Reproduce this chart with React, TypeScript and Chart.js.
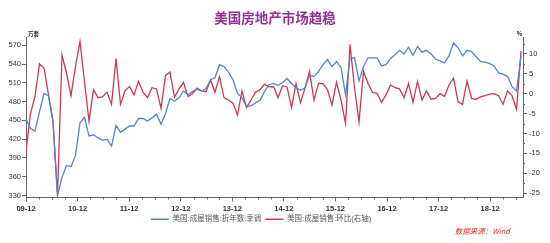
import { useEffect, useRef } from "react";
import { Chart, registerables } from "chart.js";

Chart.register(...registerables);

const TITLE = "美国房地产市场趋稳";
const SALES_NAME = "美国:成屋销售:折年数:季调";
const MOM_NAME = "美国:成屋销售:环比(右轴)";
const SOURCE_TEXT = "数据来源：Wind";
const LEFT_UNIT = "万套";
const RIGHT_UNIT = "%";

// x-axis labels as printed on the reference (evenly spread)
const X_TICK_LABELS = ["09-12", "10-12", "11-12", "12-12", "13-12", "14-12", "15-12", "16-12", "17-12", "18-12"];
const LEFT_TICKS = [330, 360, 390, 420, 450, 480, 510, 540, 570];
const RIGHT_TICKS = [-25, -20, -15, -10, -5, 0, 5, 10];

// monthly points, 2009-12 .. 2019-02
const START_YEAR = 2009;
const START_MONTH = 12;

// 万套, seasonally adjusted annual rate
const SALES = [
  452, 437, 433, 464, 493, 489, 448, 330, 359, 378,
  376, 394, 446, 455, 425, 427, 422, 418, 420, 409,
  442, 431, 436, 441, 441, 453, 453, 449, 454, 460,
  444, 461, 485, 481, 486, 497, 491, 496, 500, 497,
  501, 515, 518, 539, 536, 527, 515, 493, 486, 472,
  473, 478, 482, 496, 507, 509, 506, 510, 517, 509,
  502, 498, 502, 522, 520, 528, 539, 547, 536, 544,
  535, 491, 549, 550, 513, 536, 550, 550, 550, 537,
  539, 549, 555, 562, 556, 567, 554, 568, 559, 562,
  556, 548, 545, 542, 553, 574, 566, 553, 562, 560,
  552, 544, 543, 541, 537, 526, 524, 520, 504, 497,
  553,
];

// %, month over month
const MOM = [
  -14.3, -5.0, -0.7, 7.5, 6.4, -0.3, -6.9, -25.5, 9.7, 5.2,
  -0.5, 6.9, 13.1, 3.0, -6.9, 1.0, -1.0, -0.8, 0.4, -2.7,
  8.8, -2.7, 0.7, 1.8, -0.3, 3.1, 0.4, -1.0, 1.5, 1.2,
  -3.7, 4.6, 5.4, -0.9, 1.2, 2.8, -0.7, 0.0, 1.4, 0.7,
  0.5, 3.4, 0.4, 4.3, -1.0, -1.6, -2.4, -5.4, 0.7, -3.5,
  -1.6, 0.4, 1.0, 2.4, 1.7, 1.8, -1.0, 2.0, 1.7, -3.5,
  2.5, -2.3, 1.4, 5.6, -1.6, 2.6, 2.5, 1.0, -2.9, 2.9,
  -1.6, -7.5, 12.4, 1.5, -7.1, 5.6, 2.6, 0.3, 0.1, -2.2,
  -0.3, 2.2, 1.5, 1.2, -1.0, 2.5, -2.2, 3.1, -1.6, 0.7,
  -1.4, -1.2, 0.0, -0.7, 2.2, 3.9, -2.0, -2.7, 3.2, -1.2,
  -1.4, -0.8, -0.5, -0.1, 0.0, -0.5, -2.7, 0.7, -0.5, -3.9,
  10.7,
];

const MONTHS = SALES.map((_, i) => {
  const m0 = START_MONTH - 1 + i;
  const y = START_YEAR + Math.floor(m0 / 12);
  const m = (m0 % 12) + 1;
  return `${y}-${String(m).padStart(2, "0")}`;
});

const X_LABEL_STEP = 11.46;

const FONT = '"Liberation Sans", "Noto Sans CJK SC", sans-serif';
const CJK_FONT = '"Noto Sans CJK SC", "Liberation Sans", sans-serif';
const BLUE = "#5585C2";
const RED = "#CC3A50";
const AXIS = "#666666";

const extras = {
  id: "extras",
  afterLayout(chart: any) {
    const lg = chart.legend;
    if (lg) {
      lg.left -= 14;
      lg.right -= 14;
    }
  },
  afterDraw(chart: any) {
    const { ctx, chartArea, scales } = chart;
    ctx.save();
    // minor ticks
    ctx.strokeStyle = AXIS;
    ctx.lineWidth = 1;
    const xs = scales.x;
    ctx.beginPath();
    for (let k = 0; k < X_TICK_LABELS.length; k++) {
      for (let q = 1; q < 4; q++) {
        const v = (k + q / 4) * X_LABEL_STEP;
        if (v > xs.max) continue;
        const px = Math.round(xs.getPixelForValue(v)) + 0.5;
        ctx.moveTo(px, chartArea.bottom);
        ctx.lineTo(px, chartArea.bottom + 2);
      }
    }
    const yr = scales.y1;
    for (let k = 0; k < RIGHT_TICKS.length; k++) {
      const v = RIGHT_TICKS[k] + 2.5;
      if (v > yr.max) continue;
      const py = Math.round(yr.getPixelForValue(v)) + 0.5;
      ctx.moveTo(chartArea.right, py);
      ctx.lineTo(chartArea.right + 2, py);
    }
    ctx.stroke();
    // units
    ctx.fillStyle = "#222";
    ctx.font = `bold 5.5px ${CJK_FONT}`;
    ctx.textBaseline = "middle";
    ctx.textAlign = "left";
    ctx.fillText(LEFT_UNIT, chartArea.left + 2, chartArea.top - 3);
    ctx.textAlign = "right";
    ctx.fillText(RIGHT_UNIT, chartArea.right - 1, chartArea.top - 3);
    // source
    ctx.fillStyle = "#E03030";
    ctx.font = `italic 7.5px ${CJK_FONT}`;
    ctx.textAlign = "right";
    ctx.fillText(SOURCE_TEXT, chart.width - 40, chart.height - 12);
    ctx.restore();
  },
};

export default function App() {
  const ref = useRef<HTMLCanvasElement>(null);
  useEffect(() => {
    if (!ref.current) return;
    const chart = new Chart(ref.current, {
      type: "line",
      data: {
        labels: MONTHS,
        datasets: [
          {
            label: SALES_NAME,
            data: SALES.map((v, i) => ({ x: i, y: v })),
            borderColor: BLUE,
            backgroundColor: BLUE,
            borderWidth: 1.3,
            pointRadius: 0,
            tension: 0,
            yAxisID: "y",
          },
          {
            label: MOM_NAME,
            data: MOM.map((v, i) => ({ x: i, y: v })),
            borderColor: RED,
            backgroundColor: RED,
            borderWidth: 1.3,
            pointRadius: 0,
            tension: 0,
            yAxisID: "y1",
          },
        ],
      },
      options: {
        responsive: false,
        animation: false,
        devicePixelRatio: 1,
        layout: { padding: { left: 0, right: 0, top: 0, bottom: 10 } },
        plugins: {
          title: {
            display: true,
            text: TITLE,
            color: "#942F96",
            font: { family: CJK_FONT, size: 13.5, weight: "bold" },
            padding: { top: 10, bottom: 11 },
          },
          legend: {
            display: true,
            position: "bottom",
            labels: {
              usePointStyle: true,
              pointStyle: "line",
              pointStyleWidth: 18,
              boxHeight: 7.5,
              padding: 4,
              color: "#555",
              font: { family: FONT, size: 7.5 },
            },
          },
          tooltip: { enabled: false },
        },
        scales: {
          x: {
            type: "linear",
            min: 0,
            max: 110.44,
            afterBuildTicks: (axis: any) => {
              axis.ticks = X_TICK_LABELS.map((_, k) => ({ value: k * X_LABEL_STEP }));
            },
            afterFit: (axis: any) => {
              axis.height = 14;
            },
            ticks: {
              autoSkip: false,
              maxRotation: 0,
              padding: 3,
              color: "#333",
              font: { family: FONT, size: 7.5, weight: "bold" },
              callback: (_v: any, i: number) => X_TICK_LABELS[i],
            },
            grid: { drawOnChartArea: false, drawTicks: true, tickLength: 4, color: AXIS },
            border: { display: true, color: AXIS },
          },
          y: {
            position: "left",
            min: 326.8,
            max: 582.9,
            afterBuildTicks: (axis: any) => {
              axis.ticks = LEFT_TICKS.map((v) => ({ value: v }));
            },
            afterFit: (axis: any) => {
              axis.width = 26;
            },
            ticks: {
              padding: 1,
              color: "#333",
              font: { family: FONT, size: 7.5 },
            },
            grid: { drawOnChartArea: false, drawTicks: true, tickLength: 4, color: AXIS },
            border: { display: true, color: AXIS },
          },
          y1: {
            position: "right",
            min: -26.1,
            max: 14.2,
            afterBuildTicks: (axis: any) => {
              axis.ticks = RIGHT_TICKS.map((v) => ({ value: v }));
            },
            afterFit: (axis: any) => {
              axis.width = 27;
            },
            ticks: {
              padding: 2,
              color: "#333",
              font: { family: FONT, size: 7.5 },
            },
            grid: { drawOnChartArea: false, drawTicks: true, tickLength: 4, color: AXIS },
            border: { display: true, color: AXIS },
          },
        },
      },
      plugins: [extras],
    } as any);
    return () => chart.destroy();
  }, []);
  return (
    <div style={{ position: "fixed", left: 0, top: 0, width: 550, height: 243, background: "#fff" }}>
      <canvas ref={ref} width={550} height={243} />
    </div>
  );
}
